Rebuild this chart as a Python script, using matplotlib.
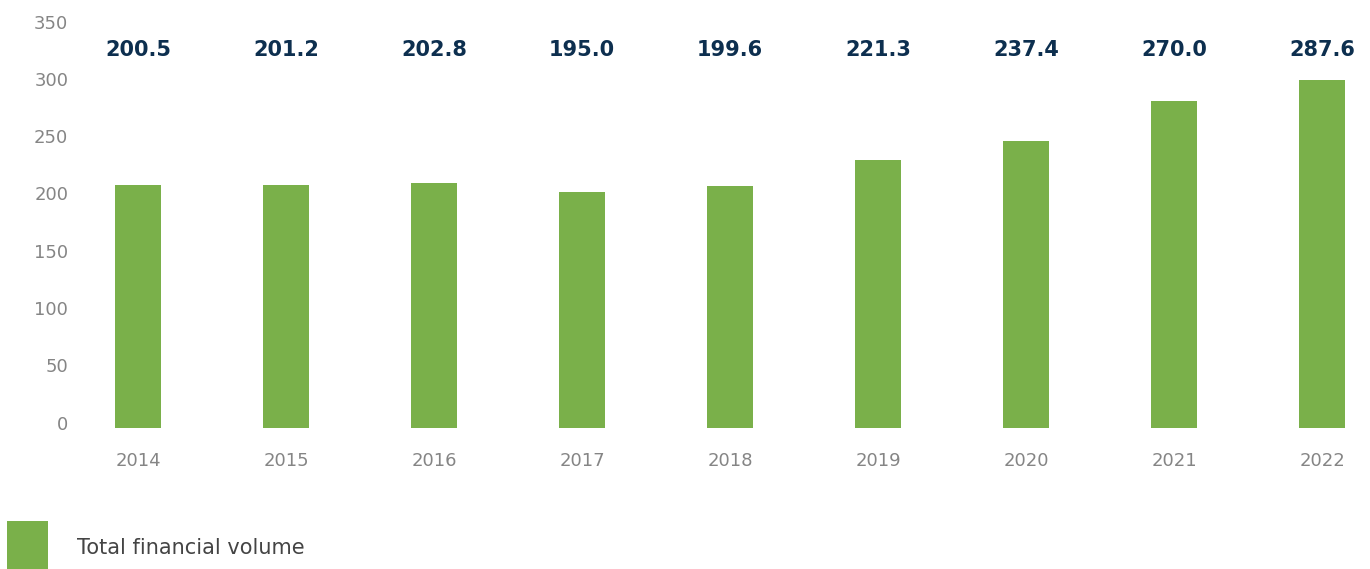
import matplotlib.pyplot as plt
from matplotlib.patches import Rectangle
import matplotlib.transforms as mtransforms

years = ["2014", "2015", "2016", "2017", "2018", "2019", "2020", "2021", "2022"]
volume = [200.5, 201.2, 202.8, 195.0, 199.6, 221.3, 237.4, 270.0, 287.6]
y_ticks = [0, 50, 100, 150, 200, 250, 300, 350]
legend_label = "Total financial volume"

green = "#7ab04a"
navy = "#0d2f4f"
grey = "#858585"

fig = plt.figure(figsize=(13.7, 5.69), dpi=100)
W, H = 1370, 569

# axes spans pixel x 80..1370, y 10..428 (from top)
left, right, top_px, base_px = 80, 1370, 10, 428
ax = fig.add_axes([left / W, (H - base_px) / H, (right - left) / W, (base_px - top_px) / H])
ax2 = ax.twinx()

x = list(range(len(years)))
ax.set_xlim(-(138 - left) / 148, 8 + (right - 1322) / 148)

# tick scale: 0 at px 422.7, 50 units per 57.3 px
k = 50 / 57.3
ax.set_ylim((422.7 - base_px) * k, (422.7 - top_px) * k)
# bars drawn on their own scale as in the original graphic
ax2.set_ylim(0, (base_px - top_px) / 1.21)

ax2.bar(x, volume, width=0.31, color=green, zorder=2)

ax.set_yticks(y_ticks)
ax.set_xticks(x)
ax.set_xticklabels(years)
ax.tick_params(axis="y", length=0, pad=8.5, labelsize=13, labelcolor=grey)
ax.tick_params(axis="x", length=0, pad=17, labelsize=13, labelcolor=grey)
ax2.set_yticks([])
for a in (ax, ax2):
    for s in a.spines.values():
        s.set_visible(False)
ax.patch.set_visible(False)

trans = mtransforms.blended_transform_factory(ax.transData, ax.transAxes)
for xi, v in zip(x, volume):
    ax.text(xi, (base_px - 50) / (base_px - top_px), f"{v:.1f}", transform=trans,
            ha="center", va="center", fontsize=15, fontweight="heavy", color=navy)

# legend key drawn by hand, square at the bottom left
fig.add_artist(Rectangle((7 / W, 0), 41 / W, 48 / H, transform=fig.transFigure,
                         facecolor=green, edgecolor="none"))
fig.text(77 / W, (H - 548) / H, legend_label, ha="left", va="center",
         fontsize=15, color="#444444")

fig.savefig("out.png", dpi=100)
